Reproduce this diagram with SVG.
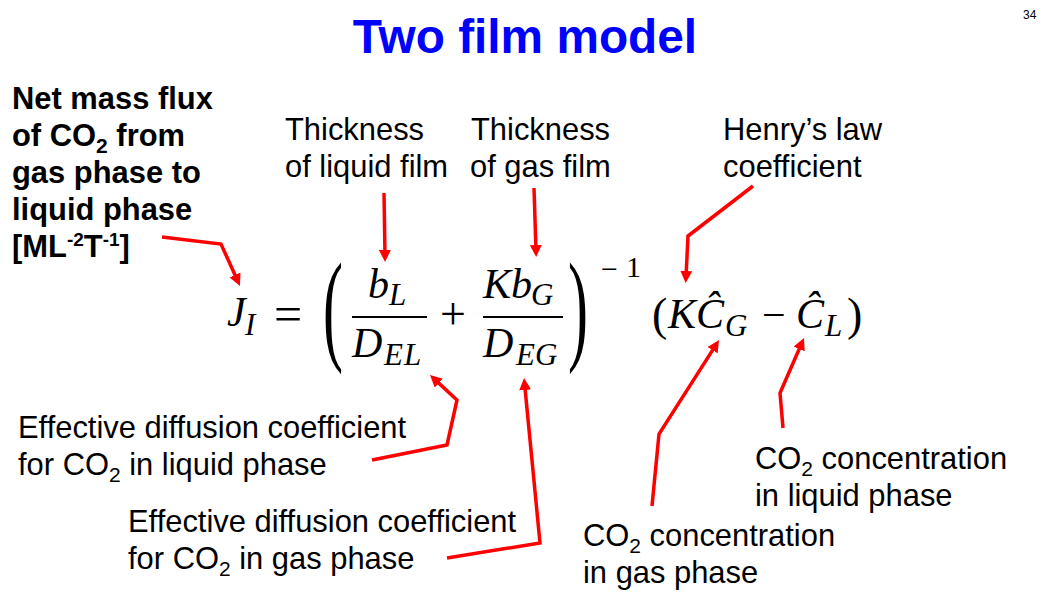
<svg xmlns="http://www.w3.org/2000/svg" width="1042" height="594" viewBox="0 0 1042 594">
<style>
.lbl{font-family:"Liberation Sans",Arial,sans-serif;font-size:30.9px;fill:#000}
.bold{font-weight:bold}
.sub{font-size:21px}
.sup{font-size:19px}
.m{font-family:"Liberation Serif","Times New Roman",serif;font-style:italic;font-size:42px;fill:#000}
.ms{font-family:"Liberation Serif","Times New Roman",serif;font-style:italic;font-size:31px;fill:#000}
.mu{font-family:"Liberation Serif","Times New Roman",serif;font-style:normal;fill:#000}
.bar{stroke:#000;stroke-width:2}
.conn{fill:none;stroke:#ff0000;stroke-width:3.5;stroke-linejoin:miter;marker-end:url(#ah)}
</style>
<defs>
<marker id="ah" markerUnits="userSpaceOnUse" markerWidth="14" markerHeight="12" refX="6" refY="6" orient="auto">
<path d="M0,0 L12,6 L0,12 z" fill="#ff0000"/>
</marker>
</defs>
<rect width="1042" height="594" fill="#fff"/>

<g id="title">
<text x="525" y="53" text-anchor="middle" style="font-family:'Liberation Sans',Arial,sans-serif;font-weight:bold;font-size:47.8px;fill:#0000ff">Two film model</text>
</g>
<g id="page-number">
<text x="1023" y="19" style="font-family:'Liberation Sans',Arial,sans-serif;font-size:12px;fill:#000">34</text>
</g>

<g id="net-flux-label">
<text class="lbl bold" x="12" y="109">Net mass flux</text>
<text class="lbl bold" x="12" y="146">of CO<tspan class="sub" dy="7">2</tspan><tspan dy="-7"> from</tspan></text>
<text class="lbl bold" x="12" y="183">gas phase to</text>
<text class="lbl bold" x="12" y="220">liquid phase</text>
<text class="lbl bold" x="12" y="257">[ML<tspan class="sup" dy="-11">-2</tspan><tspan dy="11">T</tspan><tspan class="sup" dy="-11">-1</tspan><tspan dy="11">]</tspan></text>
</g>

<g id="liquid-film-label">
<text class="lbl" x="285" y="140">Thickness</text>
<text class="lbl" x="285" y="177">of liquid film</text>
</g>
<g id="gas-film-label">
<text class="lbl" x="471" y="140">Thickness</text>
<text class="lbl" x="470" y="177">of gas film</text>
</g>
<g id="henry-label">
<text class="lbl" x="723" y="140">Henry’s law</text>
<text class="lbl" x="723" y="177">coefficient</text>
</g>
<g id="eff-liquid-label">
<text class="lbl" x="18" y="438">Effective diffusion coefficient</text>
<text class="lbl" x="18" y="475">for CO<tspan class="sub" dy="7">2</tspan><tspan dy="-7"> in liquid phase</tspan></text>
</g>
<g id="eff-gas-label">
<text class="lbl" x="128" y="532">Effective diffusion coefficient</text>
<text class="lbl" x="128" y="569">for CO<tspan class="sub" dy="7">2</tspan><tspan dy="-7"> in gas phase</tspan></text>
</g>
<g id="conc-liquid-label">
<text class="lbl" x="755" y="469">CO<tspan class="sub" dy="7">2</tspan><tspan dy="-7"> concentration</tspan></text>
<text class="lbl" x="755" y="506">in liquid phase</text>
</g>
<g id="conc-gas-label">
<text class="lbl" x="583" y="546">CO<tspan class="sub" dy="7">2</tspan><tspan dy="-7"> concentration</tspan></text>
<text class="lbl" x="583" y="583">in gas phase</text>
</g>

<g id="equation">
<text class="m" x="227" y="326">J</text>
<text class="ms" x="245" y="335">I</text>
<text class="mu" x="274" y="331" style="font-size:50px">=</text>
<text class="mu" transform="translate(323,348) scale(1,2.05)" style="font-size:60px">(</text>
<text class="m" x="368" y="298">b</text>
<text class="ms" x="389" y="305">L</text>
<line class="bar" x1="352" y1="317" x2="427" y2="317"/>
<text class="m" x="352" y="357">D</text>
<text class="ms" x="384" y="365" letter-spacing="1">EL</text>
<text class="mu" x="440" y="329" style="font-size:46px">+</text>
<text class="m" x="483" y="298">Kb</text>
<text class="ms" x="531" y="305">G</text>
<line class="bar" x1="483" y1="317" x2="563" y2="317"/>
<text class="m" x="483" y="357">D</text>
<text class="ms" x="516" y="365">EG</text>
<text class="mu" transform="translate(568,348) scale(1,2.05)" style="font-size:60px">)</text>
<text class="mu" x="601" y="279" style="font-size:30px">−</text>
<text class="mu" x="626" y="277" style="font-size:30px">1</text>
<text class="mu" x="652" y="330" style="font-size:46px">(</text>
<text class="m" x="668" y="328">KĈ</text>
<text class="ms" x="725" y="336">G</text>
<text class="mu" x="762" y="329" style="font-size:42px">−</text>
<text class="m" x="796" y="328">Ĉ</text>
<text class="ms" x="825" y="336">L</text>
<text class="mu" x="847" y="330" style="font-size:46px">)</text>
</g>

<g id="connectors">
<path class="conn" d="M162,237 L221,244 L237.5,280.5"/>
<path class="conn" d="M384,193 L385,256"/>
<path class="conn" d="M534,188 L536,251"/>
<path class="conn" d="M753,186 L688,236 L686,277"/>
<path class="conn" d="M372,460 L447,445 L457,400 L434.4,379.1"/>
<path class="conn" d="M447,558 L540,543 L524.6,384"/>
<path class="conn" d="M652,506 L659,434 L715.8,345.1"/>
<path class="conn" d="M783,428 L780,393 L801.6,343.5"/>
</g>
</svg>
